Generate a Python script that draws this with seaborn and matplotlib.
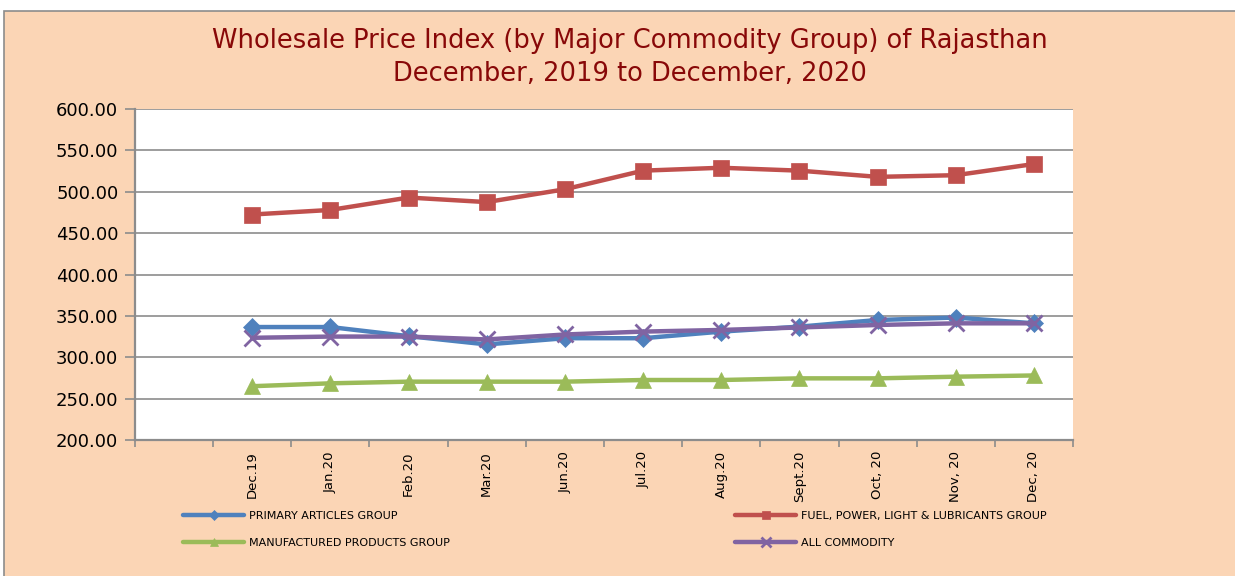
import pandas as pd
import numpy as np
import matplotlib
matplotlib.use("Agg")
import matplotlib.pyplot as plt
import seaborn as sns
from matplotlib.patches import Rectangle
from matplotlib.ticker import FixedLocator, FuncFormatter

# --- data ---
months = ["Dec.19", "Jan.20", "Feb.20", "Mar.20", "Jun.20", "Jul.20",
          "Aug.20", "Sept.20", "Oct, 20", "Nov, 20", "Dec, 20"]

primary = [336.5, 336.5, 325.5, 315.5, 323.0, 323.0, 331.0, 337.0, 345.0, 348.0, 341.0]
fuel = [472.5, 478.0, 493.0, 487.5, 503.0, 525.5, 529.0, 525.5, 518.0, 520.0, 533.5]
manufactured = [265.0, 268.5, 270.5, 270.5, 270.5, 272.5, 272.5, 274.5, 274.5, 276.5, 278.0]
all_commodity = [323.5, 325.0, 325.0, 321.5, 327.5, 331.0, 333.0, 336.0, 339.0, 341.0, 341.0]

series_names = ["PRIMARY ARTICLES GROUP", "FUEL, POWER, LIGHT & LUBRICANTS GROUP",
                "MANUFACTURED PRODUCTS GROUP", "ALL COMMODITY"]
series_values = [primary, fuel, manufactured, all_commodity]
colors = ["#4F81BD", "#C0504D", "#9BBB59", "#8064A2"]
markers = ["D", "s", "^", "x"]
msizes = [9, 11, 11, 12]

title = "Wholesale Price Index (by Major Commodity Group) of Rajasthan\nDecember, 2019 to December, 2020"

# category 0 is an empty slot in the original chart, data starts at 1
rows = []
for name, vals in zip(series_names, series_values):
    for i, v in enumerate(vals):
        rows.append({"series": name, "pos": i + 1, "value": v})
df = pd.DataFrame(rows)

sns.set_theme(style="white")
plt.rcParams["font.family"] = ["DejaVu Sans"]
plt.rcParams["text.color"] = "black"
plt.rcParams["xtick.color"] = "black"
plt.rcParams["ytick.color"] = "black"

peach = "#FBD5B5"
grey = "#8C8C8C"
fig = plt.figure(figsize=(12.35, 5.76), dpi=100, facecolor="white")
fig.patches.append(Rectangle((4 / 1235, -0.01), 1.1, (576 - 11) / 576 + 0.01,
                             transform=fig.transFigure, facecolor=peach,
                             edgecolor=grey, linewidth=1.2, zorder=-5))

ax = fig.add_axes([135 / 1235, 1 - 440 / 576, (1073 - 135) / 1235, (440 - 109) / 576])
ax.set_zorder(2)
ax.set_facecolor("white")

handles = {}
for name, c, m, ms in zip(series_names, colors, markers, msizes):
    sub = df[df["series"] == name]
    sns.lineplot(data=sub, x="pos", y="value", ax=ax, color=c, linewidth=3.2,
                 marker=m, markersize=ms, markeredgecolor=c,
                 markeredgewidth=2 if m == "x" else 0.5, legend=False)
    handles[name] = ax.lines[-1]

ax.set_xlim(-0.5, 11.5)
ax.set_ylim(200, 600)
ax.set_yticks(np.arange(200, 601, 50))
ax.yaxis.set_major_formatter(FuncFormatter(lambda v, p: f"{v:.2f}"))
ax.set_xticks(range(0, 12))
ax.set_xticklabels([""] + months, rotation=90, fontsize=9.5)
ax.xaxis.set_minor_locator(FixedLocator(np.arange(-0.5, 12, 1)))
ax.tick_params(axis="x", which="major", bottom=True, length=0, pad=8, labelcolor="black")
ax.tick_params(axis="x", which="minor", bottom=True, length=5, color=grey, width=1.2,
               direction="out")
ax.tick_params(axis="y", left=True, length=7, color=grey, width=1.2, direction="out",
               labelsize=13, pad=5, labelcolor="black")
ax.set_xlabel("")
ax.set_ylabel("")
ax.grid(axis="y", color=grey, linewidth=1.2)
ax.set_axisbelow(True)
for s in ["top", "right"]:
    ax.spines[s].set_visible(False)
for s in ["left", "bottom"]:
    ax.spines[s].set_color(grey)
    ax.spines[s].set_linewidth(1.6)

fig.text(0.51, 1 - 57 / 576, title, ha="center", va="center", fontsize=18.5,
         color="#880808", linespacing=1.35)

leg_kw = dict(frameon=False, fontsize=8, handlelength=5.5, handletextpad=0.4,
              labelspacing=1.5, borderaxespad=0, borderpad=0, markerscale=0.55,
              labelcolor="black")
l1 = fig.legend([handles[series_names[0]], handles[series_names[2]]],
                [series_names[0], series_names[2]], loc="upper left",
                bbox_to_anchor=(183 / 1235, 1 - 511 / 576), **leg_kw)
l2 = fig.legend([handles[series_names[1]], handles[series_names[3]]],
                [series_names[1], series_names[3]], loc="upper left",
                bbox_to_anchor=(735 / 1235, 1 - 511 / 576), **leg_kw)

fig.savefig("out.png", dpi=100, facecolor=fig.get_facecolor())
